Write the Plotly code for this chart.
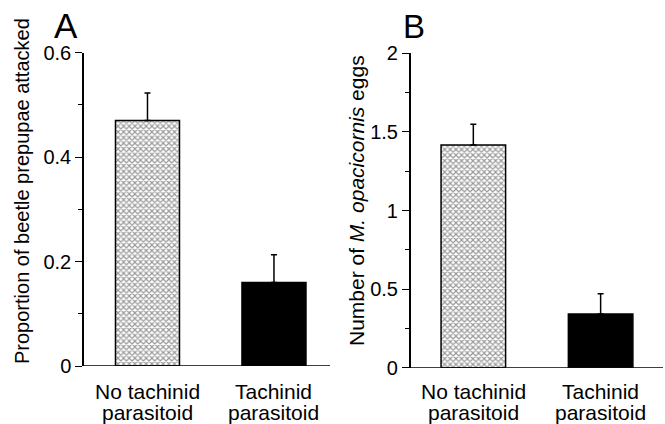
import plotly.graph_objects as go

categories = ["No tachinid<br>parasitoid", "Tachinid<br>parasitoid"]
prop_attacked = [0.47, 0.16]
prop_se = [0.053, 0.053]
eggs = [1.417, 0.342]
eggs_se = [0.131, 0.129]

FONT = "Arial, Liberation Sans, sans-serif"
W, H = 665, 424

fig = go.Figure()

def add_bars(values, errors, xa, ya, width):
    for i, (cat, v, e) in enumerate(zip(categories, values, errors)):
        if i == 0:
            marker = dict(color="white", line=dict(color="black", width=1.5),
                          pattern=dict(shape="x", size=4, solidity=0.5, fgcolor="#333333",
                                       bgcolor="white", fillmode="overlay"))
        else:
            marker = dict(color="black", line=dict(color="black", width=1.5))
        fig.add_trace(go.Bar(
            x=[cat], y=[v], xaxis=xa, yaxis=ya, width=width, marker=marker,
            error_y=dict(type="data", array=[e], arrayminus=[0], color="black", thickness=1.5, width=3),
            showlegend=False, hoverinfo="skip"))

add_bars(prop_attacked, prop_se, "x", "y", 0.506)
add_bars(eggs, eggs_se, "x2", "y2", 0.507)

ycommon = dict(showline=True, linecolor="black", linewidth=1.5, showgrid=False, zeroline=False,
               automargin=False, tickfont=dict(family=FONT, size=20, color="black"),
               ticks="outside", ticklen=7, tickwidth=1.2, tickcolor="black")
xcommon = dict(showline=False, showgrid=False, zeroline=False, automargin=False, ticks="",
               showticklabels=False)

# category labels as annotations (tighter line spacing than tick labels allow)
cat_annotations = []
for xref in ["x", "x2"]:
    for cat in categories:
        for j, line in enumerate(cat.split("<br>")):
            cat_annotations.append(dict(
                text=line, x=cat, xref=xref, y=1 - (391 + 21.5 * j) / H, yref="paper",
                xanchor="center", yanchor="middle", showarrow=False, borderpad=0,
                font=dict(family=FONT, size=21, color="black")))

fig.update_layout(
    width=W, height=H, margin=dict(l=0, r=0, t=0, b=0, autoexpand=False),
    paper_bgcolor="white", plot_bgcolor="white",
    barmode="overlay",
    xaxis=dict(domain=[84 / W, 330 / W], anchor="y", range=[-0.502, 1.443], **xcommon),
    yaxis=dict(domain=[(H - 366) / H, (H - 52.7) / H], anchor="x", range=[0, 0.6],
               tickvals=[0, 0.2, 0.4, 0.6], ticktext=["0", "0.2", "0.4", "0.6"],
               minor=dict(tickvals=[0.1, 0.3, 0.5], ticks="outside", ticklen=4, tickwidth=1, tickcolor="black"),
               **ycommon),
    xaxis2=dict(domain=[410.7 / W, 663 / W], anchor="y2", range=[-0.492, 1.49], **xcommon),
    yaxis2=dict(domain=[(H - 367.7) / H, (H - 53.3) / H], anchor="x2", range=[0, 2],
                tickvals=[0, 0.5, 1, 1.5, 2], ticktext=["0", "0.5", "1", "1.5", "2"],
                minor=dict(tickvals=[0.25, 0.75, 1.25, 1.75], ticks="outside", ticklen=4, tickwidth=1, tickcolor="black"),
                **ycommon),
    shapes=[
        dict(type="line", xref="x domain", yref="y", x0=0, x1=1, y0=0, y1=0,
             line=dict(color="black", width=1.5)),
        dict(type="line", xref="x2 domain", yref="y2", x0=0, x1=1, y0=0, y1=0,
             line=dict(color="black", width=1.5)),
    ],
    annotations=[
        dict(text="A", x=65.5 / W, y=1 - 25 / H, xref="paper", yref="paper", xanchor="center", yanchor="middle",
             showarrow=False, font=dict(family=FONT, size=35, color="black")),
        dict(text="B", x=413.5 / W, y=1 - 26 / H, xref="paper", yref="paper", xanchor="center", yanchor="middle",
             showarrow=False, font=dict(family=FONT, size=33, color="black")),
        dict(text="Proportion of beetle prepupae attacked", textangle=-90, x=22 / W, y=1 - 191 / H,
             xref="paper", yref="paper", xanchor="center", yanchor="middle", showarrow=False,
             font=dict(family=FONT, size=20, color="black")),
        dict(text="Number of <i>M. opacicornis</i> eggs", textangle=-90, x=356 / W, y=1 - 201 / H,
             xref="paper", yref="paper", xanchor="center", yanchor="middle", showarrow=False,
             font=dict(family=FONT, size=21, color="black")),
    ] + cat_annotations,
)

fig.write_html("out.html", config={"displayModeBar": False},
               post_script="document.body.style.margin='0px';document.body.style.overflow='hidden';")
